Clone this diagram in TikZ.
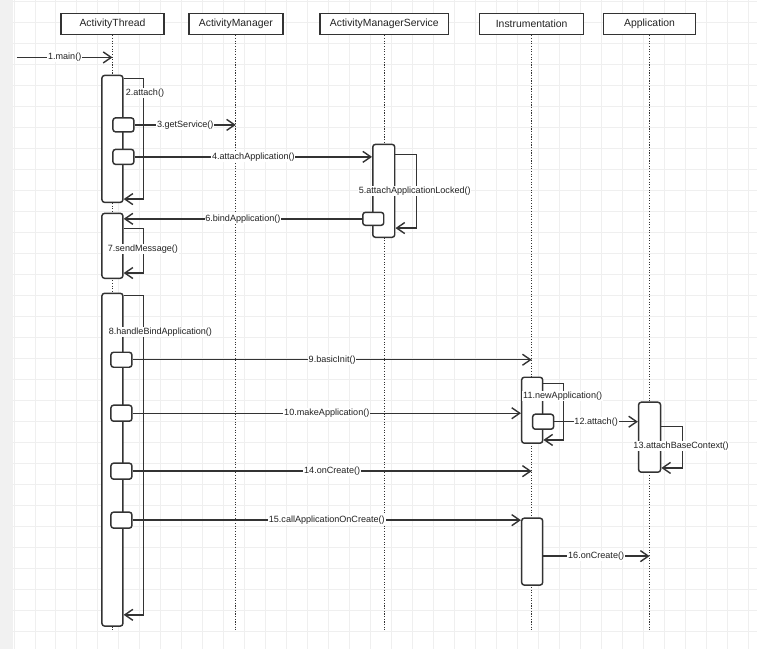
\documentclass[tikz,border=0pt]{standalone}
\usepackage{fontspec}
\setmainfont{Liberation Sans}
\usetikzlibrary{arrows.meta,fit}
\definecolor{ln}{HTML}{333333}
\definecolor{gridc}{HTML}{EFEFEF}
\definecolor{strip}{HTML}{F1F1F1}
\definecolor{txt}{HTML}{222222}
\begin{document}
\begin{tikzpicture}[x=0.75pt,y=-0.75pt,
  head/.style={draw=ln, line width=1.1pt, fill=white, inner sep=0pt, minimum height={21*0.75pt}, font=\fontsize{7.8}{9}\selectfont, text=txt},
  life/.style={draw=ln, line width=0.8pt, dash pattern=on 0.8pt off 1.2pt},
  act/.style={draw=ln, line width=1.1pt, fill=white, rounded corners=2pt, inner sep=0pt},
  msg/.style={draw=ln, line width=1.05pt, -{Straight Barb[length=6pt,width=8.25pt]}},
  lbl/.style={fill=white, inner sep=0.6pt, font=\fontsize{6.8}{8}\selectfont, text=txt},
  ]
% background
\fill[white] (0,0) rectangle (757,649);
\fill[strip] (0,0) rectangle (13,649);
\foreach \x in {14,35,...,756} \draw[gridc, line width=0.7pt] (\x,0) -- (\x,649);
\foreach \y in {1,22,...,648} \draw[gridc, line width=0.7pt] (13,\y) -- (757,\y);
\useasboundingbox (0,0) rectangle (757,649);

% headers
\node[head, minimum width={103*0.75pt}] (AT) at (112.5,23.5) {ActivityThread};
\node[head, minimum width={94*0.75pt}] (AM) at (236,23.5) {ActivityManager};
\node[head, minimum width={129*0.75pt}] (AMS) at (384.5,23.5) {ActivityManagerService};
\node[head, minimum width={104*0.75pt}] (IN) at (532,23.5) {Instrumentation};
\node[head, minimum width={92*0.75pt}] (AP) at (650,23.5) {Application};

% lifelines
\coordinate (ATend) at (112.5,630);
\coordinate (AMend) at (236,630);
\coordinate (AMSend) at (384.5,630);
\coordinate (INend) at (532,630);
\coordinate (APend) at (650,630);
\draw[life] (AT) -- (ATend);
\draw[life] (AM) -- (AMend);
\draw[life] (AMS) -- (AMSend);
\draw[life] (IN) -- (INend);
\draw[life] (AP) -- (APend);

% activations
\node[act, fit={(102,75)(123,202)}] (a1) {};
\node[act, fit={(102,213)(123,278)}] (a2) {};
\node[act, fit={(102,293)(123,626)}] (a3) {};
\node[act, fit={(373,144)(395,237)}] (b1) {};
\node[act, fit={(522,377)(543,443)}] (c1) {};
\node[act, fit={(522,518)(543,585)}] (c2) {};
\node[act, fit={(639,402)(661,472)}] (d1) {};

% nested small activations
\node[act, fit={(113,117.5)(134,131.5)}] (s1) {};
\node[act, fit={(113,149)(134,164)}] (s2) {};
\node[act, fit={(363,212)(384,225)}] (s3) {};
\node[act, fit={(111,352)(132,367)}] (s4) {};
\node[act, fit={(111,405)(132,421)}] (s5) {};
\node[act, fit={(111,463)(132,479)}] (s6) {};
\node[act, fit={(111,512)(132,528)}] (s7) {};
\node[act, fit={(533,414)(554,429)}] (s8) {};

% messages
\coordinate (m1s) at (17,57);
\draw[msg] (m1s) -- (m1s -| AT) node[lbl, midway] {1.main()};
\draw[msg] (s1.east) -- (s1.east -| AM) node[lbl, midway] {3.getService()};
\draw[msg] (s2.east) -- (s2.east -| b1.west) node[lbl, midway] {4.attachApplication()};
\draw[msg] (s3.west) -- (s3.west -| a2.east) node[lbl, midway] {6.bindApplication()};
\draw[msg] (s4.east) -- (s4.east -| IN) node[lbl, midway] {9.basicInit()};
\draw[msg] (s5.east) -- (s5.east -| c1.west) node[lbl, midway] {10.makeApplication()};
\draw[msg] (s8.east) -- (s8.east -| d1.west) node[lbl, midway] {12.attach()};
\draw[msg] (s6.east) -- (s6.east -| IN) node[lbl, midway] {14.onCreate()};
\draw[msg] (s7.east) -- (s7.east -| c2.west) node[lbl, midway] {15.callApplicationOnCreate()};
\coordinate (m16s) at (543,556);
\draw[msg] (m16s) -- (m16s -| AP) node[lbl, midway] {16.onCreate()};

% self calls
\draw[msg] ([yshift=-3pt]a1.north east) -- ++(20,0) |- ([yshift=3pt]a1.south east);
\draw[msg] ([yshift=-8.25pt]b1.north east) -- ++(21,0) |- ([yshift=7.5pt]b1.south east);
\draw[msg] ([yshift=-12pt]a2.north east) -- ++(20,0) |- ([yshift=4.5pt]a2.south east);
\draw[msg] ([yshift=-2.25pt]a3.north east) -- ++(20,0) |- ([yshift=9pt]a3.south east);
\draw[msg] ([yshift=-5.25pt]c1.north east) -- ++(20,0) |- ([yshift=3pt]c1.south east);
\draw[msg] ([yshift=-18.75pt]d1.north east) -- ++(21,0) |- ([yshift=3.75pt]d1.south east);

% self-call labels
\node[lbl] (L2) at (145,93) {2.attach()};
\node[lbl] (L5) at (415,191) {5.attachApplicationLocked()};
\node[lbl] (L7) at (143,249) {7.sendMessage()};
\node[lbl] (L8) at (160.5,332) {8.handleBindApplication()};
\node[lbl] (L11) at (563,396) {11.newApplication()};
\node[lbl] (L13) at (681.5,446) {13.attachBaseContext()};
\end{tikzpicture}
\end{document}
